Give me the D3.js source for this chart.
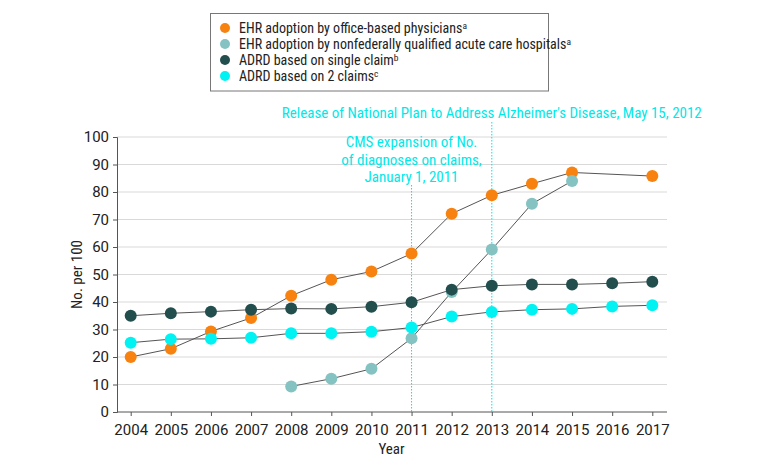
<!DOCTYPE html>
<html>
<head>
<meta charset="utf-8">
<script src="https://cdn.jsdelivr.net/npm/d3@7"></script>
<style>
  body { margin: 0; background: #fff; }
  text { font-family: "Liberation Sans Narrow", "Roboto Condensed", Roboto, sans-serif; }
</style>
</head>
<body>
<div id="chart"></div>
<script>
const width = 780;
const height = 467;

// data
const years = d3.range(2004, 2018);
const physicians = [20.0, 23.0, 29.3, 34.2, 42.3, 48.1, 51.1, 57.6, 72.1, 78.8, 83.0, 87.1, null, 85.8];
const hospitals = [null, null, null, null, 9.3, 12.1, 15.7, 26.8, 43.6, 59.1, 75.7, 84.0, null, null];
const singleClaim = [35.0, 35.9, 36.5, 37.2, 37.6, 37.5, 38.3, 39.9, 44.5, 45.9, 46.4, 46.4, 46.8, 47.4];
const twoClaims = [25.2, 26.5, 26.6, 27.0, 28.6, 28.6, 29.2, 30.7, 34.7, 36.4, 37.2, 37.5, 38.4, 38.8];
const yTicks = d3.range(0, 101, 10);

const series = [
    { name: 'EHR adoption by office-based physicians', sup: 'a', color: '#f7820f', values: physicians },
    { name: 'EHR adoption by nonfederally qualified acute care hospitals', sup: 'a', color: '#85c3c3', values: hospitals },
    { name: 'ADRD based on single claim', sup: 'b', color: '#224e4e', values: singleClaim },
    { name: 'ADRD based on 2 claims', sup: 'c', color: '#00f2f2', values: twoClaims }
];

const margin = { left: 117, right: 113, top: 137, bottom: 55 };

const svg = d3.select('#chart')
    .append('svg')
    .attr('width', width)
    .attr('height', height);

const x = d3.scaleLinear()
    .domain([2004, 2017])
    .range([130.7, 652.3]);

const y = d3.scaleLinear()
    .domain([0, 100])
    .range([height - margin.bottom, margin.top]);

// gridlines
svg.append('g')
    .selectAll('line')
    .data(yTicks.filter(d => d > 0))
    .enter()
    .append('line')
    .attr('x1', margin.left)
    .attr('x2', width - margin.right)
    .attr('y1', d => y(d))
    .attr('y2', d => y(d))
    .attr('stroke', '#d9d9d9')
    .attr('stroke-width', 1.2);

// event markers
const events = [
    { year: 2011, top: 185 },
    { year: 2013, top: 122 }
];
svg.append('g')
    .selectAll('line')
    .data(events)
    .enter()
    .append('line')
    .attr('x1', d => x(d.year))
    .attr('x2', d => x(d.year))
    .attr('y1', d => d.top)
    .attr('y2', y(0))
    .attr('stroke', '#00e5e5')
    .attr('stroke-width', 1)
    .attr('stroke-dasharray', '1.5,1.5');

svg.append('text')
    .attr('x', x(2013))
    .attr('y', 118)
    .attr('text-anchor', 'middle')
    .attr('font-size', 15)
    .attr('fill', '#00e8e8')
    .text("Release of National Plan to Address Alzheimer's Disease, May 15, 2012");

const cmsLines = ['CMS expansion of No.', 'of diagnoses on claims,', 'January 1, 2011'];
svg.append('text')
    .attr('text-anchor', 'middle')
    .attr('font-size', 15)
    .attr('fill', '#00e8e8')
    .selectAll('tspan')
    .data(cmsLines)
    .enter()
    .append('tspan')
    .attr('x', x(2011))
    .attr('y', (d, i) => 147 + i * 17.5)
    .text(d => d);

// axes
const xAxis = d3.axisBottom(x)
    .tickValues(years)
    .tickFormat(d3.format('d'))
    .tickSize(4);
const yAxis = d3.axisLeft(y)
    .tickValues(yTicks)
    .tickSize(4);

const gx = svg.append('g')
    .attr('transform', `translate(0,${y(0)})`)
    .call(xAxis);
gx.select('.domain').attr('d', `M${margin.left},0H${width - margin.right}`);

const gy = svg.append('g')
    .attr('transform', `translate(${margin.left},0)`)
    .call(yAxis);

[gx, gy].forEach(g => {
    g.select('.domain').attr('stroke', '#555');
    g.selectAll('.tick line').attr('stroke', '#555');
    g.selectAll('.tick text')
        .attr('font-size', 15)
        .attr('fill', '#222')
        .style('font-family', '"Liberation Sans Narrow", Roboto, sans-serif');
});
gx.selectAll('.tick text').attr('dy', '1.05em');
gy.selectAll('.tick text').attr('dx', '-1');

svg.append('text')
    .attr('x', x(2010.5))
    .attr('y', 454)
    .attr('text-anchor', 'middle')
    .attr('font-size', 15)
    .attr('fill', '#222')
    .text('Year');

svg.append('text')
    .attr('transform', `translate(82,${y(50)}) rotate(-90)`)
    .attr('text-anchor', 'middle')
    .attr('font-size', 15)
    .attr('fill', '#222')
    .text('No. per 100');

// lines and points
const line = d3.line()
    .defined(d => d.v != null)
    .x(d => x(d.year))
    .y(d => y(d.v));

series.forEach(s => {
    const pts = years.map((yr, i) => ({ year: yr, v: s.values[i] })).filter(d => d.v != null);
    svg.append('path')
        .datum(pts)
        .attr('d', line)
        .attr('fill', 'none')
        .attr('stroke', '#555')
        .attr('stroke-width', 1);
});

series.forEach(s => {
    const pts = years.map((yr, i) => ({ year: yr, v: s.values[i] })).filter(d => d.v != null);
    svg.append('g')
        .selectAll('circle')
        .data(pts)
        .enter()
        .append('circle')
        .attr('cx', d => x(d.year))
        .attr('cy', d => y(d.v))
        .attr('r', 6)
        .attr('fill', s.color);
});

// legend
const legend = svg.append('g');
legend.append('rect')
    .attr('x', 210.5)
    .attr('y', 13.5)
    .attr('width', 338)
    .attr('height', 77.5)
    .attr('fill', 'none')
    .attr('stroke', '#777')
    .attr('stroke-width', 1);

const items = legend.selectAll('g.item')
    .data(series)
    .enter()
    .append('g')
    .attr('class', 'item')
    .attr('transform', (d, i) => `translate(225,${28 + i * 16})`);

items.append('circle')
    .attr('r', 5)
    .attr('fill', d => d.color);

const lt = items.append('text')
    .attr('x', 14)
    .attr('y', 5)
    .attr('font-size', 14)
    .attr('fill', '#222');
lt.append('tspan').text(d => d.name);
lt.append('tspan')
    .attr('font-size', 9.5)
    .attr('dy', -4)
    .text(d => d.sup);
</script>
</body>
</html>
